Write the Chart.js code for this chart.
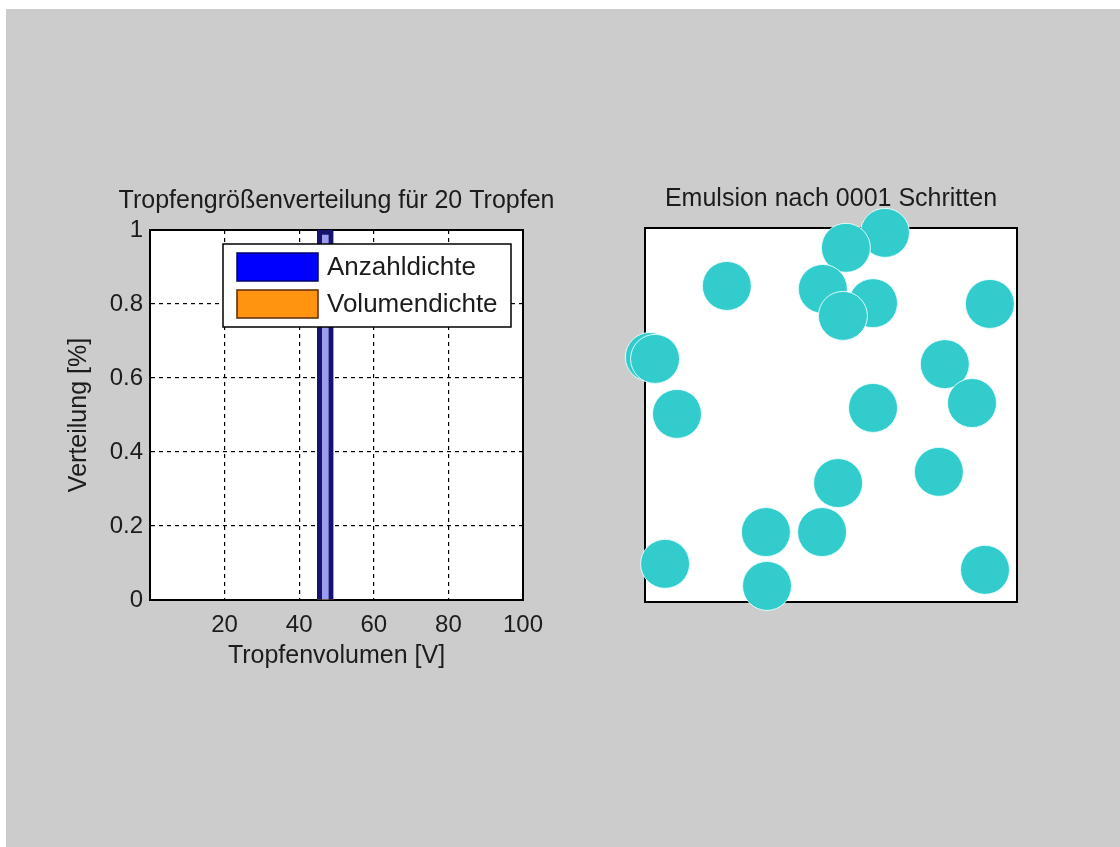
<!DOCTYPE html>
<html>
<head>
<meta charset="utf-8">
<script src="https://cdn.jsdelivr.net/npm/chart.js@4"></script>
<style>
  body { margin: 0; background: #fff; width: 1120px; height: 847px; overflow: hidden; }
  #flaeche { position: absolute; left: 6px; top: 9px; width: 1114px; height: 838px; background: #cccccc; }
  canvas { position: absolute; }
  #verteilung { left: 0px; top: 160px; }
  #emulsion { left: 580px; top: 160px; }
</style>
</head>
<body>
<div id="flaeche"></div>
<canvas id="verteilung" width="560" height="560"></canvas>
<canvas id="emulsion" width="480" height="480"></canvas>
<script>
    // Daten Tropfengrößenverteilung
    var tropfenVolumen = [47];
    var anzahldichte = [1];
    var volumendichte = [0];

    // Tropfenpositionen (Mittelpunkte, normiert 0..1)
    var tropfenX = [0.645, 0.540, 0.220, 0.478, 0.613, 0.532, 0.927, 0.013, 0.027, 0.806,
                    0.086, 0.613, 0.879, 0.519, 0.790, 0.325, 0.476, 0.054, 0.328, 0.914];
    var tropfenY = [0.987, 0.947, 0.845, 0.837, 0.799, 0.765, 0.797, 0.655, 0.650, 0.636,
                    0.503, 0.519, 0.532, 0.318, 0.348, 0.187, 0.187, 0.102, 0.043, 0.086];

    var titelVerteilung = 'Tropfengrößenverteilung für 20 Tropfen';

    Chart.defaults.font.family = '"Liberation Sans", Arial, sans-serif';
    Chart.defaults.font.size = 24;
    Chart.defaults.color = '#1c1c1c';

    // weisse Achsenfläche + Rahmen (oben und rechts fehlen sonst)
    const rahmen = {
        id: 'rahmen',
        beforeDraw(chart) {
            const a = chart.chartArea, c = chart.ctx;
            c.save();
            c.fillStyle = '#fff';
            c.fillRect(a.left, a.top, a.right - a.left, a.bottom - a.top);
            c.restore();
        },
        beforeDatasetsDraw(chart) {
            const a = chart.chartArea, c = chart.ctx;
            c.save();
            c.strokeStyle = '#000';
            c.lineWidth = 2;
            c.strokeRect(a.left, a.top, a.right - a.left, a.bottom - a.top);
            c.restore();
        }
    };

    // Titel über der Achsenmitte (der normale Titel wird sonst gestaucht)
    const titelMitte = {
        id: 'titelMitte',
        afterDraw(chart) {
            const a = chart.chartArea, c = chart.ctx;
            c.save();
            c.font = '25px "Liberation Sans", Arial, sans-serif';
            c.fillStyle = '#1c1c1c';
            c.textAlign = 'center';
            c.textBaseline = 'alphabetic';
            c.fillText(titelVerteilung, (a.left + a.right) / 2, a.top - 22);
            c.restore();
        }
    };

    // Legende innerhalb der Achsen, wie bei Matlab
    const legendeInnen = {
        id: 'legendeInnen',
        afterDatasetsDraw(chart) {
            const a = chart.chartArea, c = chart.ctx;
            const x = a.left + 73, y = a.top + 14, w = 288, h = 83;
            c.save();
            c.fillStyle = '#fff';
            c.fillRect(x, y, w, h);
            c.strokeStyle = '#000';
            c.lineWidth = 1.5;
            c.strokeRect(x, y, w, h);
            c.font = '26px "Liberation Sans", Arial, sans-serif';
            c.textBaseline = 'middle';
            chart.data.datasets.forEach(function(ds, i) {
                const by = y + 9 + i * 37;
                c.fillStyle = ds.legendeFarbe;
                c.fillRect(x + 14, by, 81, 28);
                c.strokeStyle = ds.legendeRand;
                c.lineWidth = 1.5;
                c.strokeRect(x + 14, by, 81, 28);
                c.fillStyle = '#1c1c1c';
                c.fillText(ds.label, x + 104, by + 15);
            });
            c.restore();
        }
    };

    new Chart(document.getElementById('verteilung').getContext('2d'), {
        type: 'bar',
        data: {
            datasets: [{
                label: 'Anzahldichte',
                data: tropfenVolumen.map((v, i) => ({ x: v, y: anzahldichte[i] })),
                backgroundColor: '#9c9cef',
                borderColor: '#14146e',
                borderWidth: 5,
                borderSkipped: 'bottom',
                barThickness: 16,
                legendeFarbe: '#0000ff',
                legendeRand: '#00006e'
            }, {
                label: 'Volumendichte',
                data: tropfenVolumen.map((v, i) => ({ x: v, y: volumendichte[i] })),
                backgroundColor: '#ff9900',
                borderWidth: 0,
                barThickness: 16,
                legendeFarbe: '#ff9410',
                legendeRand: '#5a2a00'
            }]
        },
        options: {
            responsive: false,
            animation: false,
            events: [],
            grouped: false,
            layout: { padding: { left: 60, right: 37, top: 70, bottom: 45 } },
            plugins: {
                legend: { display: false },
                tooltip: { enabled: false },
                title: { display: false }
            },
            scales: {
                x: {
                    type: 'linear',
                    min: 0,
                    max: 100,
                    offset: false,
                    grid: { color: '#000', lineWidth: 1.2, drawTicks: false, offset: false },
                    border: { display: true, color: '#000', width: 2, dash: [4, 4] },
                    ticks: {
                        stepSize: 20,
                        padding: 11,
                        maxRotation: 0,
                        callback: function(v) { return v === 0 ? '' : v; }
                    },
                    title: { display: true, text: 'Tropfenvolumen [V]', font: { size: 25 }, padding: { top: 4, bottom: 4 } },
                    afterFit: function(s) { s.height = 75; }
                },
                y: {
                    min: 0,
                    max: 1,
                    grid: { color: '#000', lineWidth: 1.2, drawTicks: false },
                    border: { display: true, color: '#000', width: 2, dash: [4, 4] },
                    ticks: {
                        stepSize: 0.2,
                        padding: 7,
                        callback: function(v) { return Math.round(v * 10) / 10; }
                    },
                    title: { display: true, text: 'Verteilung [%]', font: { size: 25 }, padding: { top: 4, bottom: 4 } },
                    afterFit: function(s) { s.width = 90; }
                }
            }
        },
        plugins: [rahmen, legendeInnen, titelMitte]
    });

    new Chart(document.getElementById('emulsion').getContext('2d'), {
        type: 'scatter',
        data: {
            datasets: [{
                label: 'Tropfen',
                data: tropfenX.map((x, i) => ({ x: x, y: tropfenY[i] })),
                pointRadius: 24.5,
                pointBackgroundColor: '#33cccc',
                pointBorderColor: 'rgba(235,255,255,0.9)',
                pointBorderWidth: 1,
                clip: false
            }]
        },
        options: {
            responsive: false,
            animation: false,
            events: [],
            layout: { padding: { left: 65, right: 43, top: 0, bottom: 38 } },
            plugins: {
                legend: { display: false },
                tooltip: { enabled: false },
                title: {
                    display: true,
                    fullSize: false,
                    text: 'Emulsion nach 0001 Schritten',
                    font: { size: 25, weight: 'normal' },
                    padding: { top: 24, bottom: 14 }
                }
            },
            scales: {
                x: { min: 0, max: 1, display: false },
                y: { min: 0, max: 1, display: false }
            }
        },
        plugins: [rahmen]
    });
</script>
</body>
</html>
